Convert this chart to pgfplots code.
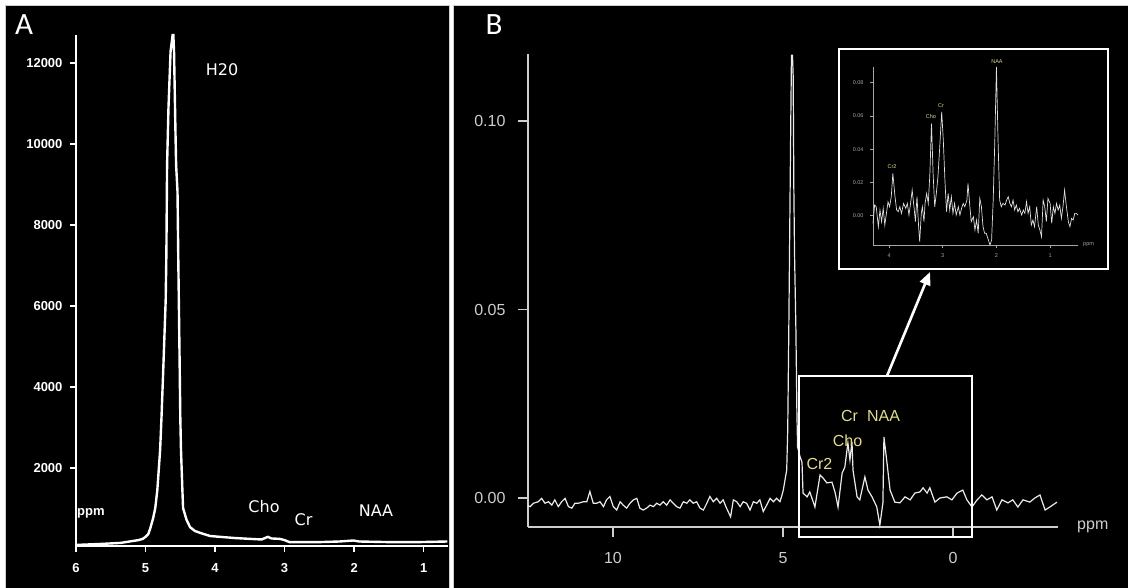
\documentclass[border=0pt]{standalone}
\usepackage{pgfplots}
\pgfplotsset{compat=1.18}
\usepackage{pgfplotstable}
\usepackage{fontspec}
\setmainfont{Liberation Sans}
\newfontfamily\labfont{Carlito}
\newfontfamily\annfont{DejaVu Sans}
\usetikzlibrary{arrows.meta}
\definecolor{ann}{RGB}{226,220,140}
\definecolor{frm}{RGB}{205,205,205}
\definecolor{tr}{RGB}{235,235,235}

% panel A: full spectrum, ppm vs intensity
\pgfplotstableread{
ppm v
6.00 100
5.64 125
5.36 150
5.10 220
5.04 250
5.00 300
4.96 370
4.93 520
4.89 765
4.86 1010
4.83 1460
4.79 2450
4.77 3260
4.74 4670
4.71 6150
4.70 7310
4.69 9480
4.67 10890
4.64 12280
4.61 12690
4.60 12690
4.59 12280
4.57 10350
4.56 9480
4.54 8820
4.53 7310
4.51 4670
4.50 3260
4.49 2450
4.47 1460
4.46 1010
4.41 720
4.36 540
4.29 445
4.21 395
4.07 320
3.93 300
3.71 270
3.50 250
3.33 235
3.24 300
3.19 260
3.07 250
3.00 220
2.93 170
2.50 170
2.21 185
2.01 210
1.93 185
1.50 170
1.07 170
0.66 185
}\specA

% panel B: water-suppressed spectrum
\pgfplotstableread{
ppm v
12.50 -0.0020
12.44 -0.0023
12.34 -0.0014
12.20 -0.0010
12.10 -0.0001
12.00 -0.0014
11.90 -0.0010
11.80 -0.0019
11.71 -0.0005
11.61 -0.0023
11.51 -0.0010
11.41 -0.0001
11.31 -0.0023
11.21 -0.0027
11.12 -0.0014
11.02 -0.0014
10.87 -0.0010
10.77 -0.0010
10.68 0.0017
10.58 -0.0014
10.48 -0.0014
10.38 -0.0010
10.28 -0.0023
10.19 -0.0005
10.09 0.0004
9.99 -0.0023
9.89 -0.0032
9.79 -0.0010
9.70 -0.0019
9.60 -0.0027
9.50 -0.0014
9.40 -0.0005
9.30 -0.0001
9.21 -0.0027
9.11 -0.0032
9.01 -0.0027
8.91 -0.0019
8.81 -0.0023
8.71 -0.0014
8.62 -0.0019
8.52 -0.0010
8.42 -0.0019
8.32 -0.0005
8.23 -0.0014
8.13 -0.0023
8.03 -0.0027
7.93 -0.0010
7.83 -0.0014
7.74 -0.0005
7.64 -0.0014
7.54 -0.0010
7.44 -0.0027
7.34 -0.0032
7.24 -0.0014
7.15 0.0004
7.05 -0.0010
6.95 -0.0001
6.85 -0.0014
6.76 -0.0005
6.66 -0.0027
6.54 -0.0050
6.46 -0.0005
6.36 -0.0010
6.26 -0.0023
6.17 -0.0010
6.07 -0.0014
5.97 -0.0032
5.87 -0.0010
5.77 -0.0014
5.68 -0.0005
5.58 -0.0036
5.48 -0.0019
5.38 -0.0001
5.28 -0.0010
5.19 -0.0001
5.09 -0.0010
5.04 0.0004
4.99 0.0021
4.94 0.0048
4.89 0.0074
4.86 0.0180
4.83 0.0430
4.80 0.0720
4.77 0.1000
4.75 0.1175
4.72 0.1175
4.70 0.1120
4.68 0.0820
4.66 0.0650
4.62 0.0450
4.59 0.0225
4.57 0.0135
4.50 0.0110
4.44 0.0095
4.41 0.0013
4.29 0.0003
4.21 0.0016
4.06 -0.0024
3.91 0.0061
3.82 0.0053
3.71 0.0040
3.56 0.0042
3.47 0.0016
3.38 -0.0024
3.26 0.0066
3.18 0.0082
3.09 0.0146
3.03 0.0101
2.97 0.0149
2.94 0.0074
2.82 0.0003
2.74 -0.0005
2.59 0.0056
2.50 0.0021
2.38 0.0003
2.24 -0.0024
2.15 -0.0072
2.06 -0.0013
2.03 0.0162
1.94 0.0093
1.85 0.0021
1.71 -0.0011
1.56 -0.0013
1.41 0.0003
1.26 -0.0005
1.12 0.0013
0.97 0.0016
0.88 0.0027
0.76 0.0013
0.68 0.0027
0.53 -0.0011
0.38 0.0000
0.18 0.0003
0.03 -0.0005
-0.12 0.0013
-0.29 0.0021
-0.41 -0.0005
-0.56 -0.0024
-0.71 -0.0005
-0.85 0.0008
-1.00 -0.0005
-1.15 0.0003
-1.29 -0.0032
-1.44 -0.0005
-1.62 -0.0013
-1.76 -0.0005
-1.91 -0.0024
-2.06 -0.0005
-2.26 -0.0011
-2.41 0.0000
-2.56 0.0008
-2.71 -0.0032
-2.85 -0.0024
-3.06 -0.0011
}\specB

% inset: zoom of the metabolite region
\pgfplotstableread{
ppm v
4.30 -0.0046
4.27 0.0064
4.24 0.0054
4.20 -0.0066
4.17 0.0034
4.14 -0.0036
4.11 0.0044
4.08 -0.0056
4.05 0.0014
4.02 0.0084
3.99 0.0054
3.96 0.0114
3.93 0.0254
3.89 0.0114
3.86 0.0034
3.83 0.0024
3.80 0.0054
3.77 0.0014
3.73 0.0074
3.69 0.0044
3.66 0.0074
3.63 0.0004
3.60 0.0074
3.57 0.0154
3.53 0.0034
3.51 -0.0036
3.48 0.0114
3.45 -0.0066
3.43 -0.0156
3.40 0.0014
3.38 0.0054
3.35 -0.0036
3.33 0.0074
3.30 0.0134
3.27 0.0074
3.24 0.0254
3.21 0.0554
3.18 0.0254
3.15 0.0054
3.12 0.0134
3.09 0.0234
3.06 0.0394
3.02 0.0624
2.99 0.0454
2.96 0.0214
2.93 0.0024
2.90 0.0134
2.87 0.0034
2.84 0.0114
2.81 0.0014
2.78 0.0074
2.75 0.0004
2.71 0.0054
2.68 0.0004
2.65 0.0044
2.62 0.0074
2.59 0.0054
2.55 0.0094
2.53 0.0194
2.50 0.0074
2.47 -0.0036
2.43 -0.0006
2.40 -0.0086
2.37 -0.0026
2.34 -0.0106
2.31 0.0104
2.28 0.0054
2.25 -0.0066
2.22 -0.0106
2.19 -0.0106
2.16 -0.0136
2.12 -0.0176
2.09 -0.0146
2.06 0.0094
2.03 0.0454
2.00 0.0894
1.97 0.0454
1.94 0.0094
1.91 0.0054
1.88 0.0074
1.84 0.0064
1.81 0.0094
1.78 0.0114
1.75 0.0074
1.72 0.0054
1.69 0.0094
1.66 0.0034
1.63 0.0064
1.60 0.0024
1.57 0.0044
1.53 0.0004
1.50 0.0034
1.47 0.0014
1.44 0.0084
1.41 0.0014
1.38 0.0054
1.35 -0.0056
1.32 -0.0026
1.29 -0.0066
1.25 0.0054
1.22 -0.0056
1.19 -0.0086
1.16 -0.0126
1.13 0.0094
1.10 0.0054
1.07 -0.0036
1.04 0.0104
1.00 0.0074
0.97 -0.0046
0.94 0.0054
0.91 0.0014
0.88 0.0074
0.85 0.0034
0.82 0.0064
0.79 -0.0016
0.76 0.0054
0.73 0.0154
0.70 0.0064
0.66 -0.0036
0.63 -0.0066
0.60 -0.0016
0.57 -0.0026
0.54 0.0014
0.51 0.0014
0.48 0.0004
}\specC

\pgfplotsset{
  dark/.style={
    scale only axis, axis lines=left, enlargelimits=false, x dir=reverse,
    axis line style={-, white, line width=1.6pt},
    tick align=outside, major tick length=6pt,
    tick style={white, line width=1.6pt},
    scaled ticks=false, clip=false,
  },
}

\begin{document}
\begin{tikzpicture}
\useasboundingbox (0pt,0pt) rectangle (1128pt,588pt);
\fill[white] (0pt,0pt) rectangle (1128pt,588pt);
\filldraw[fill=black, draw=frm, line width=1pt] (5pt,-2pt) rectangle (449pt,582pt);
\filldraw[fill=black, draw=frm, line width=1pt] (453pt,-2pt) rectangle (1131pt,582pt);

% ---- panel A
\begin{axis}[dark, at={(76pt,42pt)}, anchor=south west,
  width=372pt, height=511pt,
  xmin=0.65, xmax=6, ymin=74, ymax=12690,
  xtick={1,2,3,4,5,6}, xticklabels={1,2,3,4,5,6},
  ytick={2000,4000,6000,8000,10000,12000},
  yticklabels={2000,4000,6000,8000,10000,12000},
  ticklabel style={font=\fontsize{13}{13}\selectfont\bfseries, text=white},
  xticklabel style={yshift=-8pt},
  yticklabel style={xshift=-4pt},
]
\addplot[white, line width=2.4pt, line join=miter] table[x=ppm, y=v] {\specA};
\end{axis}
\node[text=white, font=\fontsize{13}{13}\selectfont\bfseries, anchor=west, inner sep=0] at (77pt,75pt) {ppm};
\begin{scope}[every node/.style={text=white, font=\annfont\fontsize{16}{16}\selectfont, inner sep=0}]
\node at (222pt,518pt) {H20};
\node at (264pt,81pt) {Cho};
\node at (303.5pt,68pt) {Cr};
\node at (376pt,77pt) {NAA};
\end{scope}
\node[text=white, font=\labfont\fontsize{31}{31}\selectfont, inner sep=0] at (24pt,563pt) {A};

% ---- panel B
\begin{axis}[dark, at={(528pt,61pt)}, anchor=south west,
  width=530pt, height=473pt,
  xmin=-3.09, xmax=12.5, ymin=-0.0077, ymax=0.1178,
  axis line style={-, frm, line width=1.4pt},
  tick style={frm, line width=1.4pt}, major tick length=10pt,
  xtick={0,5,10}, xticklabels={0,5,10},
  ytick={0,0.05,0.1}, yticklabels={0.00,0.05,0.10},
  ticklabel style={font=\fontsize{16}{16}\selectfont, text=frm},
  xticklabel style={yshift=-12pt},
  yticklabel style={xshift=-9pt},
]
\addplot[tr, line width=1.2pt] table[x=ppm, y=v] {\specB};
\end{axis}
\node[text=frm, font=\fontsize{16}{16}\selectfont, anchor=west, inner sep=0] at (1077pt,61pt) {ppm};
\begin{scope}[every node/.style={text=ann, font=\fontsize{16}{16}\selectfont, inner sep=0}]
\node at (819.5pt,124pt) {Cr2};
\node at (847.5pt,147pt) {Cho};
\node at (849.5pt,172pt) {Cr};
\node at (883.5pt,172pt) {NAA};
\end{scope}
\node[text=white, font=\labfont\fontsize{31}{31}\selectfont, inner sep=0] at (494pt,563pt) {B};

% highlighted region and arrow to the inset
\draw[white, line width=1.6pt] (799pt,51pt) rectangle (972pt,212pt);
\draw[white, line width=2.6pt, -{Triangle[length=13pt, width=11pt]}] (887pt,212pt) -- (930pt,316pt);
\draw[white, line width=2.6pt] (839pt,319pt) rectangle (1108pt,539pt);

% ---- inset
\begin{axis}[dark, at={(873pt,343pt)}, anchor=south west,
  width=205pt, height=178pt,
  xmin=0.48, xmax=4.30, ymin=-0.0176, ymax=0.0894,
  axis line style={-, gray!70, line width=0.7pt},
  tick style={gray!70, line width=0.6pt}, major tick length=3pt,
  xtick={1,2,3,4}, xticklabels={1,2,3,4},
  ytick={0,0.02,0.04,0.06,0.08}, yticklabels={0.00,0.02,0.04,0.06,0.08},
  ticklabel style={font=\fontsize{5.5}{5.5}\selectfont, text=gray!70},
  xticklabel style={yshift=-2pt},
  yticklabel style={xshift=-3pt},
]
\addplot[gray!25, line width=0.7pt] table[x=ppm, y=v] {\specC};
\end{axis}
\node[text=gray!70, font=\fontsize{5.5}{5.5}\selectfont, anchor=west, inner sep=0] at (1083pt,343pt) {ppm};
\begin{scope}[every node/.style={text=ann, font=\fontsize{5.5}{5.5}\selectfont, inner sep=0}]
\node at (892pt,421pt) {Cr2};
\node at (931pt,471pt) {Cho};
\node at (941pt,482pt) {Cr};
\node at (997pt,526pt) {NAA};
\end{scope}
\end{tikzpicture}
\end{document}
